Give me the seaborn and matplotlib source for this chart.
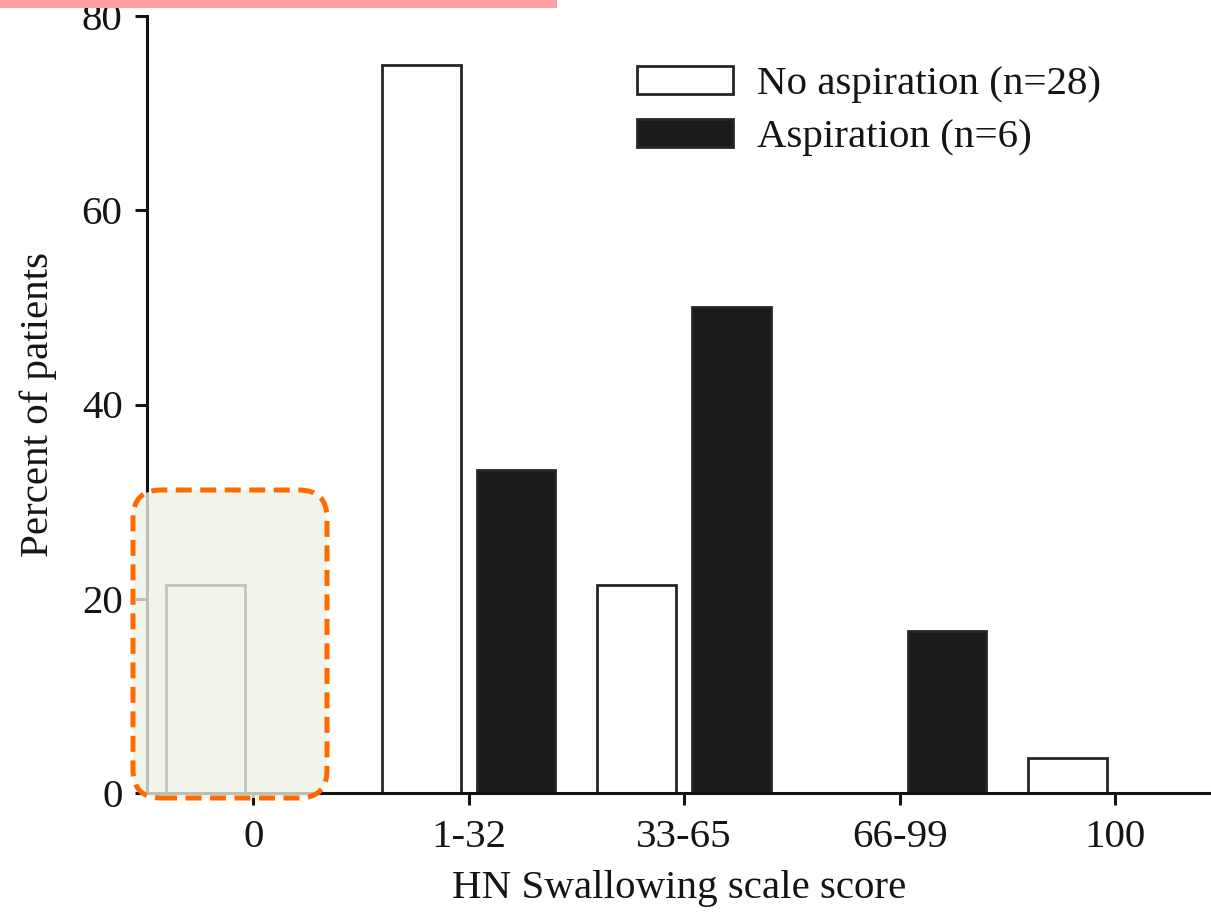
import numpy as np
import pandas as pd
import seaborn as sns
import matplotlib
matplotlib.use("Agg")
import matplotlib.pyplot as plt
from matplotlib.patches import FancyBboxPatch, Rectangle
from matplotlib.transforms import IdentityTransform

# ---- data ----
categories = ["0", "1-32", "33-65", "66-99", "100"]
no_aspiration = [21.4, 75.0, 21.4, 0.0, 3.6]
aspiration = [0.0, 33.3, 50.0, 16.7, 0.0]
series_names = ["No aspiration (n=28)", "Aspiration (n=6)"]
y_ticks = [0, 20, 40, 60, 80]
x_label = "HN Swallowing scale score"
y_label = "Percent of patients"

df = pd.DataFrame({
    "category": categories * 2,
    "value": no_aspiration + aspiration,
    "group": [series_names[0]] * len(categories) + [series_names[1]] * len(categories),
})

sns.set_theme(style="ticks")
plt.rcParams["font.family"] = ["Liberation Serif", "DejaVu Serif"]
plt.rcParams["text.color"] = "#151515"
plt.rcParams["axes.labelcolor"] = "#151515"
plt.rcParams["xtick.color"] = "#151515"
plt.rcParams["ytick.color"] = "#151515"
FS = 29.5

W, H = 1211, 918
fig = plt.figure(figsize=(W / 100, H / 100), dpi=100)
ax = fig.add_axes([147 / W, 1 - 793 / H, (W - 147) / W, (793 - 16) / H])

sns.barplot(data=df, x="category", y="value", hue="group", order=categories,
            hue_order=series_names, palette=["white", "#1a1a1a"],
            width=0.88, gap=0.17, edgecolor="#262626", linewidth=2.0,
            saturation=1, ax=ax, legend=True)

ax.set_xlim(-0.493, 4.445)
ax.set_ylim(0, 80)
ax.set_yticks(y_ticks)
ax.set_yticklabels([str(t) for t in y_ticks], fontsize=FS)
ax.set_xticks(range(len(categories)))
ax.set_xticklabels(categories, fontsize=FS)
ax.tick_params(axis="both", direction="out", length=8.6, width=2.2)
ax.tick_params(axis="y", pad=9)
ax.tick_params(axis="x", pad=10)
for s in ["top", "right"]:
    ax.spines[s].set_visible(False)
for s in ["left", "bottom"]:
    ax.spines[s].set_linewidth(2.2)
    ax.spines[s].set_color("#111111")
ax.set_xlabel(x_label, fontsize=FS, labelpad=10)
ax.set_ylabel(y_label, fontsize=FS, labelpad=18)
ax.set_facecolor("white")

leg = ax.legend(loc="upper left", bbox_to_anchor=(637 / W, 1 - 66 / H),
                bbox_transform=fig.transFigure, frameon=False, fontsize=FS,
                handlelength=2.35, handleheight=0.68, handletextpad=0.58,
                labelspacing=0.38, borderpad=0, borderaxespad=0)

# ---- overlay annotations (pixel coordinates, origin bottom-left) ----
fig.patches.append(Rectangle((0, H - 8), 557, 8, transform=IdentityTransform(),
                             facecolor="#ff9e9e", edgecolor="none", zorder=10))
bx, by, bw, bh = 133, H - 798, 327 - 133, 798 - 490
fig.patches.append(FancyBboxPatch((bx, by), bw, bh,
                                  boxstyle="round,pad=0,rounding_size=28",
                                  transform=IdentityTransform(), facecolor="#eef3e3",
                                  alpha=0.78, edgecolor="none", zorder=10))
fig.patches.append(FancyBboxPatch((bx, by), bw, bh,
                                  boxstyle="round,pad=0,rounding_size=28",
                                  transform=IdentityTransform(), facecolor="none",
                                  edgecolor="#ff6a00", linewidth=3.6,
                                  linestyle=(0, (3.2, 1.7)), zorder=11))

fig.savefig("out.png", dpi=100, facecolor="white")
